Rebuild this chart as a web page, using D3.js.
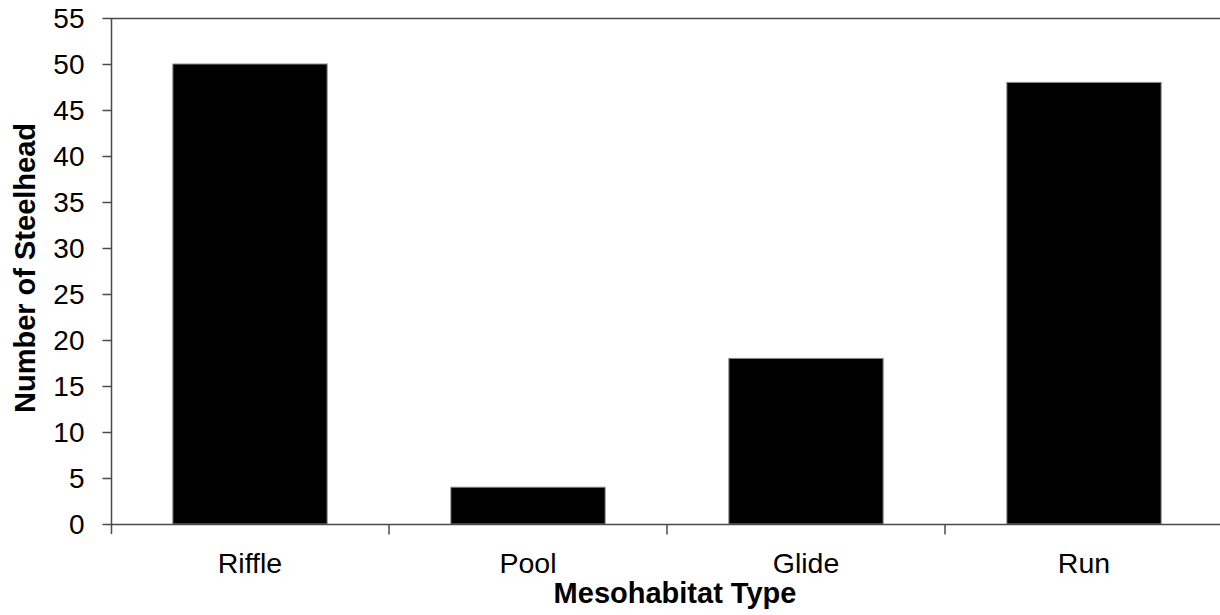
<!DOCTYPE html>
<html>
<head>
<meta charset="utf-8">
<script src="https://cdn.jsdelivr.net/npm/d3@7/dist/d3.min.js"></script>
<style>
  html, body { margin: 0; padding: 0; background: #fff; }
  svg { display: block; }
  text { font-family: "Liberation Sans", Arial, sans-serif; fill: #000; }
</style>
</head>
<body>
<svg id="chart" width="1220" height="615"></svg>
<script>
const categories = ["Riffle", "Pool", "Glide", "Run"];
const steelhead = [50, 4, 18, 48];
const yTicks = [0, 5, 10, 15, 20, 25, 30, 35, 40, 45, 50, 55];
const xTitle = "Mesohabitat Type";
const yTitle = "Number of Steelhead";

const svg = d3.select("#chart");
const mLeft = 111, mRight = 1223, mTop = 18, mBottom = 524;
const axisColor = "#4a4a4a";

const x = d3.scaleBand().domain(categories).range([mLeft, mRight]).padding(0);
const y = d3.scaleLinear().domain([0, 55]).range([mBottom, mTop]);
const barFrac = 0.555;

// bars
svg.append("g").selectAll("rect")
  .data(categories.map((c, i) => ({ c, v: steelhead[i] })))
  .join("rect")
  .attr("x", d => x(d.c) + x.bandwidth() * (1 - barFrac) / 2)
  .attr("width", x.bandwidth() * barFrac)
  .attr("y", d => y(d.v))
  .attr("height", d => y(0) - y(d.v))
  .attr("fill", "#000")
  .attr("stroke", "#8a8a8a")
  .attr("stroke-width", 1);

// top border
svg.append("line")
  .attr("x1", mLeft).attr("x2", mRight)
  .attr("y1", y(55) + 0.5).attr("y2", y(55) + 0.5)
  .attr("stroke", axisColor).attr("stroke-width", 1.5);

// y axis
const yAxis = svg.append("g")
  .attr("transform", `translate(${mLeft + 0.5},0)`)
  .call(d3.axisLeft(y).tickValues(yTicks).tickSize(9).tickPadding(18).tickSizeOuter(0));
yAxis.select(".domain").remove();
yAxis.selectAll(".tick line").attr("stroke", axisColor).attr("stroke-width", 1.5);
yAxis.selectAll(".tick text")
  .style("font-size", "28px")
  .attr("dy", "0.35em");
yAxis.append("line")
  .attr("x1", 0).attr("x2", 0)
  .attr("y1", mTop).attr("y2", mBottom + 10)
  .attr("stroke", axisColor).attr("stroke-width", 1.5);

// x axis
const xg = svg.append("g").attr("transform", `translate(0,${mBottom + 0.5})`);
xg.append("line")
  .attr("x1", mLeft).attr("x2", mRight)
  .attr("stroke", axisColor).attr("stroke-width", 1.5);
xg.selectAll("line.tk")
  .data(categories.slice(1).concat(["__end"]))
  .join("line")
  .attr("class", "tk")
  .attr("x1", d => d === "__end" ? mRight : x(d))
  .attr("x2", d => d === "__end" ? mRight : x(d))
  .attr("y1", 0).attr("y2", 10)
  .attr("stroke", axisColor).attr("stroke-width", 1.5);
xg.selectAll("text")
  .data(categories)
  .join("text")
  .attr("x", d => x(d) + x.bandwidth() / 2)
  .attr("y", 48)
  .attr("text-anchor", "middle")
  .style("font-size", "28.5px")
  .text(d => d);

// titles
svg.append("text")
  .attr("x", 675).attr("y", 603)
  .attr("text-anchor", "middle")
  .style("font-size", "29px").style("font-weight", "bold")
  .text(xTitle);

svg.append("text")
  .attr("transform", `translate(35,${(mTop + mBottom) / 2 - 3}) rotate(-90)`)
  .attr("text-anchor", "middle")
  .style("font-size", "29px").style("font-weight", "bold")
  .text(yTitle);
</script>
</body>
</html>
